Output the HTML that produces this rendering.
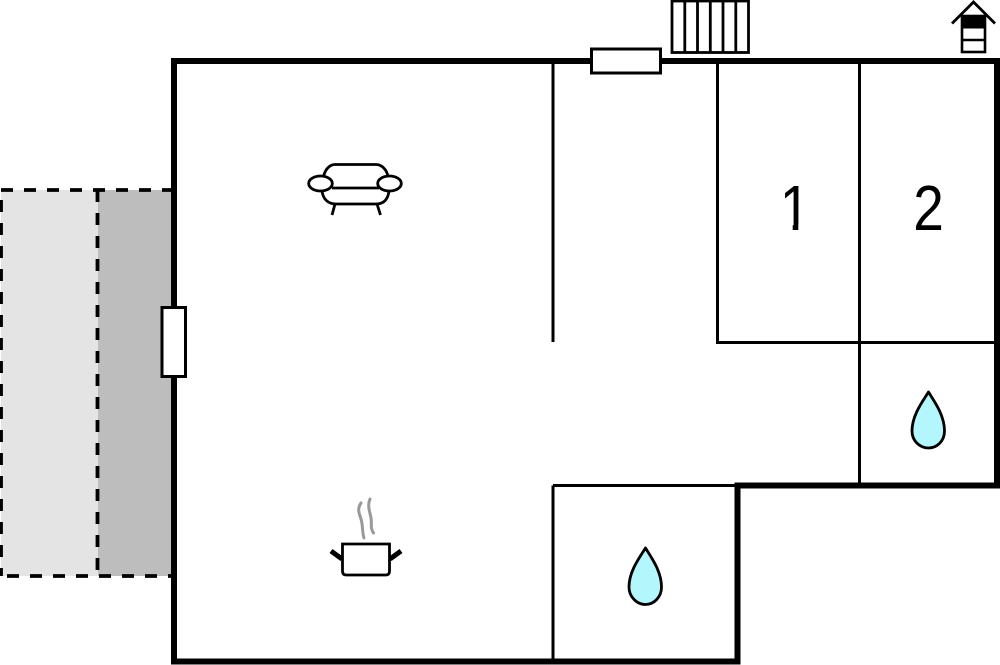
<!DOCTYPE html>
<html>
<head>
<meta charset="utf-8">
<style>
html,body{margin:0;padding:0;background:#fff;width:1000px;height:665px;overflow:hidden}
svg{display:block}
text{font-family:"Liberation Sans",sans-serif;fill:#000}
</style>
</head>
<body>
<svg width="1000" height="665" viewBox="0 0 1000 665" xmlns="http://www.w3.org/2000/svg">
<!-- terrace -->
<rect x="1" y="190" width="97" height="386" fill="#e4e4e4"/>
<rect x="98" y="190" width="73" height="386" fill="#bdbdbd"/>
<g fill="none" stroke="#000" stroke-width="3.800" stroke-dasharray="12 11">
<path d="M1 190H171"/>
<path d="M1 576H171" stroke-dashoffset="-6"/>
<path d="M1 200V576"/>
<path d="M97.500 190V576"/>
</g>
<!-- walls -->
<path d="M174 61H997V485.500H737.500V661.500H174Z" fill="none" stroke="#000" stroke-width="6"/>
<!-- inner walls -->
<g fill="none" stroke="#000" stroke-width="3">
<path d="M553 62V342"/>
<path d="M717.500 62V342.500H997"/>
<path d="M859.500 62V485"/>
<path d="M553 485.500H737"/>
<path d="M553 485.500V661"/>
</g>
<!-- windows / doors -->
<rect x="591.500" y="49" width="69" height="24" fill="#fff" stroke="#000" stroke-width="3"/>
<rect x="162" y="307.500" width="23.500" height="69" fill="#fff" stroke="#000" stroke-width="3"/>
<!-- radiator / stairs -->
<g fill="#fff" stroke="#000" stroke-width="2.800">
<rect x="672" y="1" width="76.500" height="51.500"/>
<path d="M684.800 1V52.500M697.500 1V52.500M710.300 1V52.500M723 1V52.500M735.800 1V52.500" fill="none"/>
</g>
<!-- small house -->
<path d="M952 23.500L973.500 2L995 23.500" fill="none" stroke="#000" stroke-width="2.800"/>
<rect x="962" y="16" width="23" height="36" fill="#fff" stroke="#000" stroke-width="2.600"/>
<rect x="962" y="16" width="23" height="12.500" fill="#000"/>
<path d="M962 40H985" stroke="#000" stroke-width="2.600"/>
<!-- sofa -->
<g fill="#fff" stroke="#000" stroke-width="2.800">
<path d="M323.500 177C325 169 330 164.500 335 164.500H376C381 164.500 387 169 388 177" fill="none"/>
<path d="M322 191C323 199 328 204 336 204H376C384 204 388 199 389 191" fill="none"/>
<path d="M332 188H379" fill="none"/>
<ellipse cx="320.500" cy="183.500" rx="11.800" ry="7.500"/>
<ellipse cx="389.500" cy="183.500" rx="11.800" ry="7.500"/>
<path d="M335 204L332 215M377 204L380.500 215" fill="none"/>
</g>
<!-- pot -->
<path d="M361 503C357 509 359 513 361 519C363 525 362 532 364 538M370 499C367 506 370 512 371 518C372 524 370 528 373.500 533" fill="none" stroke="#999" stroke-width="3" stroke-linecap="round"/>
<path d="M342.500 544H389.500V571C389.500 574 388 575 386 575H346C344 575 342.500 574 342.500 571Z" fill="#fff" stroke="#000" stroke-width="2.800"/>
<path d="M331 551L342 559M401 551L390 559" fill="none" stroke="#000" stroke-width="5"/>
<!-- drops -->
<path d="M645.500 548C651 557 661.500 571 661.500 587C661.500 597 654 604.500 645.500 604.500C637 604.500 629 597 629 587C629 571 640 557 645.500 548Z" fill="#b3f7fc" stroke="#000" stroke-width="2.800" stroke-linejoin="round"/>
<path d="M928.500 392C934 401 944.500 415 944.500 431C944.500 441 937 448 928.500 448C920 448 912 441 912 431C912 415 923 401 928.500 392Z" fill="#b3f7fc" stroke="#000" stroke-width="2.800" stroke-linejoin="round"/>
<!-- numbers -->
<text transform="translate(795 230) scale(1 1.17)" font-size="55" text-anchor="middle">1</text>
<rect x="778" y="224.500" width="14.700" height="7" fill="#fff"/>
<rect x="798.300" y="224.500" width="12" height="7" fill="#fff"/>
<text transform="translate(928.500 230) scale(1 1.17)" font-size="55" text-anchor="middle">2</text>
</svg>
</body>
</html>
